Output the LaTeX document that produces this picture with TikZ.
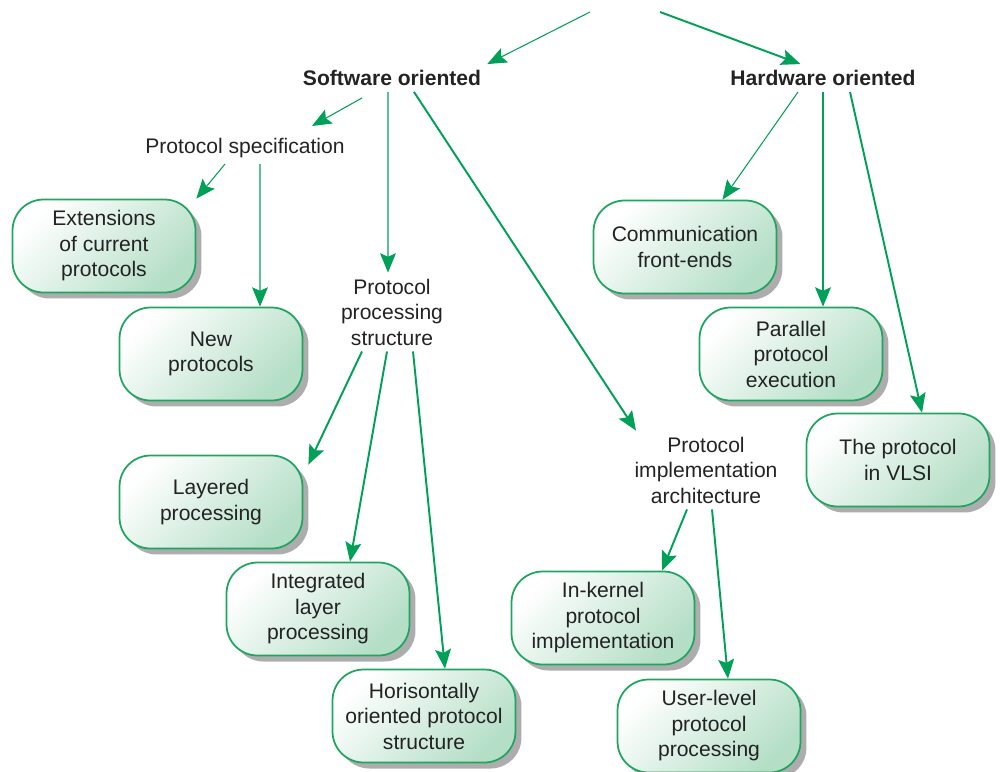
\documentclass[tikz,border=0pt]{standalone}
\usepackage{fontspec}
\setmainfont{Liberation Sans}
\usetikzlibrary{arrows.meta,shadows}
\definecolor{linegreen}{RGB}{0,160,88}
\definecolor{edgegreen}{RGB}{30,165,95}
\definecolor{fillgreen}{RGB}{180,222,198}
\definecolor{txt}{RGB}{35,35,35}
\tikzset{
  box/.style={draw=edgegreen, line width=1pt, rounded corners=0.62cm,
    minimum width=3.66cm, minimum height=1.86cm, align=center,
    shading=axis, top color=white, bottom color=fillgreen, shading angle=45,
    drop shadow={shadow xshift=0.12cm, shadow yshift=-0.12cm, fill=black!40, opacity=0.8},
    font=\fontsize{12}{14.5}\selectfont, text=txt},
  label/.style={align=center, font=\fontsize{12}{14.5}\selectfont, text=txt},
  head/.style={align=center, font=\fontsize{12}{14.5}\selectfont\bfseries, text=txt},
  conn/.style={draw=linegreen, line width=1.1pt, -{Stealth[length=11pt,width=9pt,inset=2pt]}},
  thin conn/.style={conn, line width=0.6pt}
}
\begin{document}
\begin{tikzpicture}[x=0.02cm,y=-0.02cm]
\useasboundingbox (0,0) rectangle (1000,771);

% free ends at the top
\coordinate (rootL) at (590,12);
\coordinate (rootR) at (660,12);

% headings
\node[head] (sw) at (392,78) {Software oriented};
\node[head] (hw) at (823,78) {Hardware oriented};

% intermediate labels
\node[label] (spec) at (245,148) {Protocol specification};
\node[label] (pps) at (392,312) {Protocol\\processing\\structure};
\node[label] (pia) at (706,470) {Protocol\\implementation\\architecture};

% boxes
\node[box] (ext) at (104,246) {Extensions\\of current\\protocols};
\node[box] (newp) at (211,354) {New\\protocols};
\node[box] (lay) at (211,502) {Layered\\processing};
\node[box] (ilp) at (318,609) {Integrated\\layer\\processing};
\node[box] (hor) at (424,716) {Horisontally\\oriented protocol\\structure};
\node[box] (ink) at (603,618) {In-kernel\\protocol\\implementation};
\node[box] (usr) at (709,726) {User-level\\protocol\\processing};
\node[box] (cfe) at (685,247) {Communication\\front-ends};
\node[box] (par) at (791,354) {Parallel\\protocol\\execution};
\node[box] (vlsi) at (898,460) {The protocol\\in VLSI};

% connectors
\draw[thin conn] (rootL) -- (sw.north east);
\draw[conn] (rootR) -- ([xshift=-0.45cm]hw.north);

\draw[thin conn] ([xshift=-0.6cm,yshift=-0.12cm]sw.south) -- ([xshift=1.34cm,yshift=0.12cm]spec.north);
\draw[thin conn] ([xshift=-0.08cm]sw.south) -- (pps.north -| 388,0);
\draw[conn] ([xshift=0.44cm]sw.south) -- ([xshift=-1.4cm]pia.north);

\draw[thin conn] ([xshift=-0.4cm]spec.south) -- (ext.north east);
\draw[thin conn] ([xshift=0.3cm]spec.south) -- (newp.north -| 260,0);

\draw[thin conn] ([xshift=-0.5cm]hw.south) -- ([xshift=0.75cm]cfe.north);
\draw[conn] (hw.south) -- (par.north -| 823,0);
\draw[conn] ([xshift=0.54cm]hw.south) -- (vlsi.north -| 922,0);

\draw[conn] ([xshift=-0.6cm]pps.south) -- ([xshift=0.1cm,yshift=-0.2cm]lay.north east);
\draw[conn] ([xshift=-0.1cm]pps.south) -- (ilp.north -| 350,0);
\draw[conn] ([xshift=0.42cm]pps.south) -- (hor.north -| 445,0);

\draw[conn] ([xshift=-0.38cm]pia.south) -- (ink.north -| 662,0);
\draw[conn] ([xshift=0.12cm]pia.south) -- (usr.north -| 728,0);
\end{tikzpicture}
\end{document}
